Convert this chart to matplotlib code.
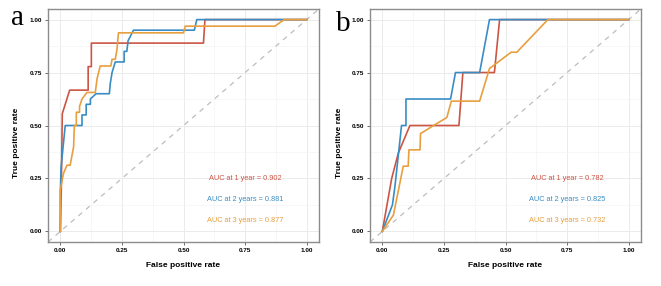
import matplotlib
matplotlib.use("Agg")
import matplotlib.pyplot as plt

plt.rcParams['font.family'] = ['Liberation Sans', 'DejaVu Sans']

# panel a: ROC points (false positive rate, true positive rate)
a_fpr_1 = [0, 0.004, 0.008, 0.038, 0.113, 0.113, 0.126, 0.126, 0.581, 0.587, 1.0]
a_tpr_1 = [0, 0.20, 0.556, 0.667, 0.667, 0.778, 0.778, 0.889, 0.889, 1.0, 1.0]

a_fpr_2 = [0, 0, 0.003, 0.013, 0.02, 0.088, 0.088, 0.105, 0.105, 0.122, 0.122, 0.145,
           0.199, 0.203, 0.21, 0.223, 0.259, 0.259, 0.27, 0.275, 0.297, 0.544, 0.554, 1.0]
a_tpr_2 = [0, 0.18, 0.30, 0.42, 0.50, 0.50, 0.55, 0.55, 0.60, 0.60, 0.625, 0.65,
           0.65, 0.70, 0.75, 0.80, 0.80, 0.85, 0.85, 0.90, 0.95, 0.95, 1.0, 1.0]

a_fpr_3 = [0, 0, 0.013, 0.027, 0.04, 0.054, 0.057, 0.065, 0.065, 0.078, 0.078, 0.088,
           0.108, 0.142, 0.149, 0.162, 0.205, 0.21, 0.223, 0.23, 0.236, 0.5, 0.507,
           0.871, 0.909, 1.0]
a_tpr_3 = [0, 0.195, 0.274, 0.3125, 0.3125, 0.40, 0.50, 0.50, 0.5625, 0.5625, 0.59, 0.625,
           0.656, 0.656, 0.72, 0.781, 0.781, 0.8125, 0.8125, 0.86, 0.9375, 0.9375, 0.969,
           0.969, 1.0, 1.0]

# panel b
b_fpr_1 = [0, 0.038, 0.065, 0.112, 0.311, 0.327, 0.455, 0.476, 1.0]
b_tpr_1 = [0, 0.25, 0.37, 0.50, 0.50, 0.75, 0.75, 1.0, 1.0]

b_fpr_2 = [0, 0.041, 0.051, 0.078, 0.096, 0.096, 0.277, 0.297, 0.395, 0.435, 1.0]
b_tpr_2 = [0, 0.125, 0.21, 0.50, 0.50, 0.625, 0.625, 0.75, 0.75, 1.0, 1.0]

b_fpr_3 = [0, 0.045, 0.085, 0.105, 0.108, 0.153, 0.155, 0.262, 0.28, 0.395, 0.435,
           0.523, 0.546, 0.672, 1.0]
b_tpr_3 = [0, 0.077, 0.308, 0.308, 0.385, 0.385, 0.462, 0.538, 0.615, 0.615, 0.769,
           0.846, 0.846, 1.0, 1.0]

auc_a = ["0.902", "0.881", "0.877"]
auc_b = ["0.782", "0.825", "0.732"]
periods = ["1 year", "2 years", "3 years"]
colors = ["#CC5544", "#3A8DC4", "#E89F3F"]
ticks = [0, 0.25, 0.5, 0.75, 1.0]
tick_labels = ["0.00", "0.25", "0.50", "0.75", "1.00"]
minor = [0.125, 0.375, 0.625, 0.875]

W, H = 661, 286
fig = plt.figure(figsize=(6.61, 2.86), dpi=100)


def px(x0, y0, x1, y1):
    return [x0 / W, 1 - y1 / H, (x1 - x0) / W, (y1 - y0) / H]


def panel(rect, curves, aucs, letter, letter_xy, ylab_x):
    ax = fig.add_axes(rect)
    ax.set_xlim(-0.05, 1.05)
    ax.set_ylim(-0.05, 1.05)
    for s in ax.spines.values():
        s.set_color("#8c8c8c")
        s.set_linewidth(1.0)
    ax.set_xticks(ticks, tick_labels, fontweight="bold")
    ax.set_yticks(ticks, tick_labels, fontweight="bold")
    ax.set_xticks(minor, minor=True)
    ax.set_yticks(minor, minor=True)
    ax.grid(which="major", color="#ebebeb", linewidth=0.7)
    ax.grid(which="minor", color="#f4f4f4", linewidth=0.5)
    ax.set_axisbelow(True)
    ax.tick_params(which="minor", length=0)
    ax.tick_params(which="major", length=2.5, width=0.6, color="#555555",
                   labelsize=4.6, pad=2)
    ax.axline((0, 0), (1, 1), color="#bdbdbd", linestyle=(0, (4, 4)), linewidth=0.9)
    for (fx, ty), c in zip(curves, colors):
        ax.plot(fx, ty, color=c, linewidth=1.2)
    for i, (p, v) in enumerate(zip(periods, aucs)):
        ax.text(0.75, 0.25 - 0.1 * i, f"AUC at {p} = {v}", color=colors[i],
                fontsize=5.3, ha="center", va="center")
    ax.set_xlabel("False positive rate", fontsize=6, fontweight="bold", labelpad=6)
    ax.set_ylabel("True positive rate", fontsize=6, fontweight="bold")
    ax.yaxis.set_label_coords(ylab_x, 0.5, transform=fig.transFigure)
    fig.text(letter_xy[0] / W, 1 - letter_xy[1] / H, letter, fontsize=21,
             family="Liberation Serif", ha="center", va="baseline")
    return ax


panel(px(48, 9, 319, 242),
      [(a_fpr_1, a_tpr_1), (a_fpr_2, a_tpr_2), (a_fpr_3, a_tpr_3)],
      auc_a, "a", (18, 25), 20 / W)
panel(px(370, 9, 641, 242),
      [(b_fpr_1, b_tpr_1), (b_fpr_2, b_tpr_2), (b_fpr_3, b_tpr_3)],
      auc_b, "b", (343, 31), 343 / W)

fig.savefig("out.png", dpi=100)
